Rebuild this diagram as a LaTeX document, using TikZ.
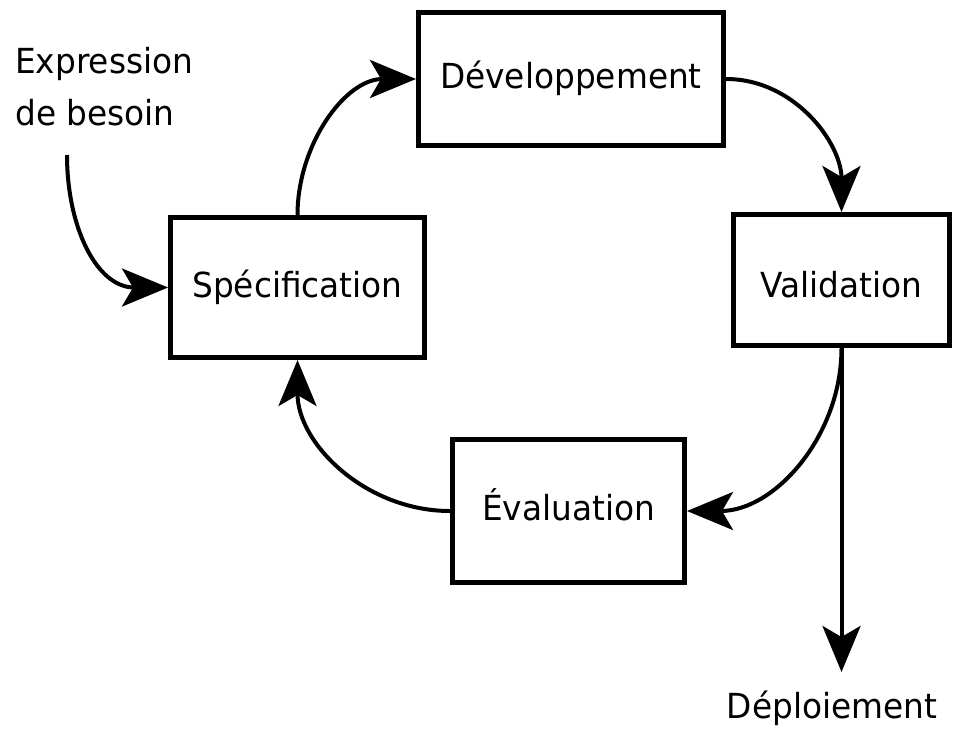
\documentclass[tikz,border=0pt]{standalone}
\usepackage{fontspec}
\setmainfont{DejaVu Sans}[FakeStretch=0.95]
\usetikzlibrary{arrows.meta}
\begin{document}
\begin{tikzpicture}[x=1pt,y=1pt,
  every node/.style={font=\fontsize{34.5}{52}\selectfont},
  box/.style={draw=black, line width=5pt, fill=white, inner sep=0pt, text height=26pt, text depth=7pt},
  arr/.style={-{Stealth[length=46pt,width=38pt,inset=11pt]}, line width=4pt}]
\useasboundingbox (0,0) rectangle (955,-728);
\node[box, minimum width=254pt, minimum height=140pt] (spec) at (297.5,-287.5) {Spécification};
\node[box, minimum width=305pt, minimum height=133pt] (dev) at (571,-79) {Développement};
\node[box, minimum width=216pt, minimum height=131pt, text height=42pt] (val) at (841.5,-280) {Validation};
\node[box, minimum width=232pt, minimum height=143pt] (eval) at (568.5,-511) {Évaluation};
\node[align=left, anchor=north west, inner sep=0pt] (expr) at (15,-47) {Expression\\de besoin};
\node[anchor=base, inner sep=0pt] (dep) at (832,-718) {Déploiement};
\coordinate (exstart) at (67,-155);
\coordinate (deptip) at (val.south |- 0,-672);
\draw[arr] (exstart) to[out=-90,in=180,looseness=1.1] (spec.west);
\draw[arr] (spec.north) to[out=90,in=180] (dev.west);
\draw[arr] (dev.east) to[out=0,in=90] (val.north);
\draw[arr] (val.south) to[out=-90,in=0] (eval.east);
\draw[arr] (eval.west) to[out=180,in=-90] (spec.south);
\draw[arr] (val.south) -- (deptip);
\end{tikzpicture}
\end{document}
